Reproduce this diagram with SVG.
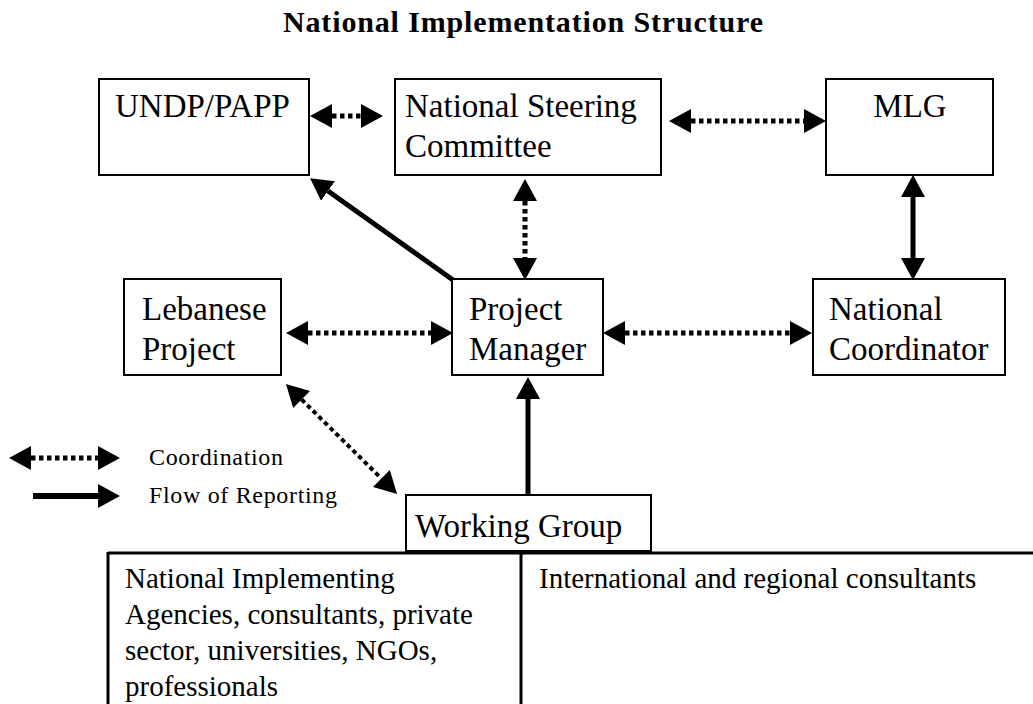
<svg xmlns="http://www.w3.org/2000/svg" width="1033" height="704" viewBox="0 0 1033 704">
  <style>
    .box { fill: #ffffff; stroke: #000000; stroke-width: 2; }
    .label { font-family: "Liberation Serif", "Times New Roman", serif; font-size: 33px; fill: #000000; }
    .cell { font-family: "Liberation Serif", "Times New Roman", serif; font-size: 29px; fill: #000000; }
    .legend { font-family: "Liberation Serif", "Times New Roman", serif; font-size: 24px; fill: #000000; }
    .title { font-family: "Liberation Serif", "Times New Roman", serif; font-size: 30px; font-weight: bold; fill: #000000; }
    .coord { fill: none; stroke: #000000; stroke-width: 5; stroke-dasharray: 4.5 3.5; marker-start: url(#head); marker-end: url(#head); }
    .report { fill: none; stroke: #000000; stroke-width: 5; marker-end: url(#head); }
    .report2 { fill: none; stroke: #000000; stroke-width: 5; marker-start: url(#head); marker-end: url(#head); }
    .grid { fill: none; stroke: #000000; stroke-width: 3; }
  </style>
  <defs>
    <marker id="head" markerUnits="userSpaceOnUse" markerWidth="22" markerHeight="24" viewBox="0 0 22 24" refX="0" refY="12" orient="auto-start-reverse">
      <path d="M0,0 L22,12 L0,24 Z" fill="#000000"/>
    </marker>
  </defs>

  <rect width="1033" height="704" fill="#ffffff"/>

  <text class="title" x="523" y="32" text-anchor="middle" textLength="480" lengthAdjust="spacing">National Implementation Structure</text>

  <!-- bottom table: participants of the working group -->
  <g id="participants">
    <line class="grid" x1="108" y1="553" x2="1035" y2="553"/>
    <line class="grid" x1="108" y1="552" x2="108" y2="706"/>
    <line class="grid" x1="521" y1="553" x2="521" y2="706"/>
    <text class="cell" x="125" y="588">National Implementing</text>
    <text class="cell" x="125" y="624">Agencies, consultants, private</text>
    <text class="cell" x="125" y="660">sector, universities, NGOs,</text>
    <text class="cell" x="125" y="696">professionals</text>
    <text class="cell" x="539" y="588">International and regional consultants</text>
  </g>

  <g id="undp-papp">
    <rect class="box" x="99" y="79" width="210" height="96"/>
    <text class="label" x="115" y="117">UNDP/PAPP</text>
  </g>

  <g id="steering-committee">
    <rect class="box" x="395" y="79" width="266" height="96"/>
    <text class="label" x="405" y="117">National Steering</text>
    <text class="label" x="405" y="157">Committee</text>
  </g>

  <g id="mlg">
    <rect class="box" x="826" y="79" width="167" height="96"/>
    <text class="label" x="910" y="117" text-anchor="middle">MLG</text>
  </g>

  <g id="lebanese-project">
    <rect class="box" x="124" y="279" width="157" height="96"/>
    <text class="label" x="142" y="320">Lebanese</text>
    <text class="label" x="142" y="360">Project</text>
  </g>

  <g id="project-manager">
    <rect class="box" x="452" y="279" width="151" height="96"/>
    <text class="label" x="469" y="320">Project</text>
    <text class="label" x="469" y="360">Manager</text>
  </g>

  <g id="national-coordinator">
    <rect class="box" x="813" y="279" width="192" height="96"/>
    <text class="label" x="829" y="320">National</text>
    <text class="label" x="829" y="360">Coordinator</text>
  </g>

  <g id="working-group">
    <rect class="box" x="406" y="495" width="245" height="56"/>
    <text class="label" x="415" y="537">Working Group</text>
  </g>

  <g id="connectors">
    <!-- coordination links -->
    <line class="coord" x1="332" y1="116" x2="361" y2="116"/>
    <line class="coord" x1="691" y1="121" x2="804" y2="121"/>
    <line class="coord" x1="525" y1="201" x2="525" y2="258"/>
    <line class="coord" x1="308" y1="333" x2="431" y2="333"/>
    <line class="coord" x1="625" y1="333" x2="790" y2="333"/>
    <line class="coord" x1="301.6" y1="399.5" x2="381.4" y2="478.5" style="stroke-width:4"/>
    <!-- reporting links -->
    <line class="report" x1="453" y1="280" x2="328" y2="191"/>
    <line class="report2" x1="913" y1="197" x2="913" y2="258"/>
    <line class="report" x1="528" y1="495" x2="528" y2="399"/>
  </g>

  <g id="legend">
    <line class="coord" x1="31" y1="458" x2="98" y2="458"/>
    <text class="legend" x="149" y="465" textLength="134" lengthAdjust="spacing">Coordination</text>
    <line class="report" x1="33" y1="496" x2="98" y2="496" style="stroke-width:6"/>
    <text class="legend" x="149" y="503" textLength="188" lengthAdjust="spacing">Flow of Reporting</text>
  </g>
</svg>
